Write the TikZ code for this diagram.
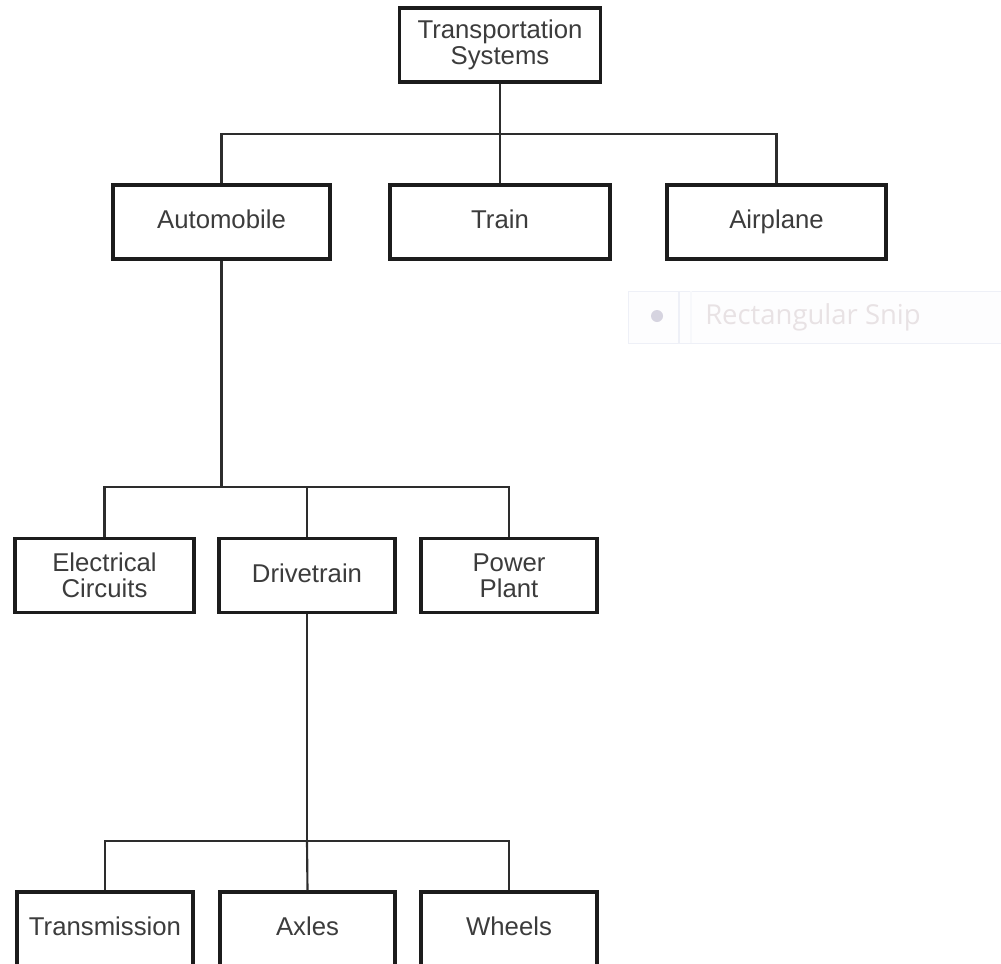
\documentclass[tikz,border=0pt]{standalone}
\usepackage{fontspec}
\setmainfont{Liberation Sans}
\newfontfamily\snipfont{Open Sans}
\usetikzlibrary{positioning, calc}
\definecolor{boxline}{RGB}{28, 28, 28}
\definecolor{linkline}{RGB}{45, 45, 45}
\definecolor{labelgray}{RGB}{60, 60, 60}
\definecolor{snipedge}{RGB}{238, 240, 247}
\definecolor{snipfill}{RGB}{253, 253, 254}
\definecolor{snipgray}{RGB}{232, 226, 228}
\definecolor{snipdot}{RGB}{214, 212, 224}

\tikzset{
    blockbox/.style={draw=boxline, fill=white, line width=2.4pt, align=center,
                     minimum height=55.5pt, inner sep=2pt,
                     font=\fontsize{19.3}{19.5}\selectfont, text=labelgray},
    oneline/.style={blockbox, text height=14pt, text depth=4pt},
    link/.style={draw=linkline, line width=1.6pt}
}

\begin{document}
\begin{tikzpicture}[x=0.75pt, y=-0.75pt]
    \clip (0,0) rectangle (1001,964);
    \fill[white] (0,0) rectangle (1001,964);

    % faint snipping tool bar
    \node[draw=snipedge, fill=snipfill, line width=0.8pt, anchor=north west,
          minimum width=285pt, minimum height=39pt, inner sep=0pt] (snip) at (628,291) {};
    \draw[snipedge, line width=0.8pt] (679,291) -- (679,343);
    \draw[snipedge!50, line width=0.8pt] (691,291) -- (691,343);
    \node[circle, fill=snipdot, minimum size=9pt, inner sep=0pt] (snipball) at (657,316) {};
    \node[anchor=west, text=snipgray, inner sep=0pt,
          font=\snipfont\fontsize{20.6}{22}\selectfont] (sniptext) at (705,317) {Rectangular Snip};

    \coordinate (upbus) at (500,134);
    \coordinate (midbus) at (221.5,487);
    \coordinate (lowbus) at (307,841);

    \node[blockbox, minimum width=150.75pt] (ts) at (500,45) {Transportation\\Systems};
    \node[oneline, minimum width=162.75pt] (auto) at (221.5,222) {Automobile};
    \node[oneline, minimum width=165pt] (train) at (500,222) {Train};
    \node[oneline, minimum width=164.25pt] (plane) at (776.5,222) {Airplane};

    \node[blockbox, minimum width=134.25pt] (elec) at (104.5,575.5) {Electrical\\Circuits};
    \node[oneline, minimum width=132pt] (drive) at (307,575.5) {Drivetrain};
    \node[blockbox, minimum width=132pt] (power) at (509,575.5) {Power\\Plant};

    \node[oneline, minimum width=132pt] (trans) at (105,929) {Transmission};
    \node[oneline, minimum width=131.25pt] (axles) at (307.5,929) {Axles};
    \node[oneline, minimum width=132pt] (wheels) at (509,929) {Wheels};

    % connectors
    \draw[link] (ts.south) -- (upbus);
    \draw[link] (auto.north) |- (upbus) -| (plane.north);
    \draw[link] (upbus) -- (train.north);
    \draw[link] (auto.south) -- (midbus);
    \draw[link] (elec.north) |- (midbus) -| (power.north);
    \draw[link] (drive.north) -- (drive.north |- midbus);
    \draw[link] (drive.south) -- (lowbus);
    \draw[link] (trans.north) |- (lowbus) -| (wheels.north);
    \draw[link] (lowbus) -- (axles.north);
\end{tikzpicture}
\end{document}
